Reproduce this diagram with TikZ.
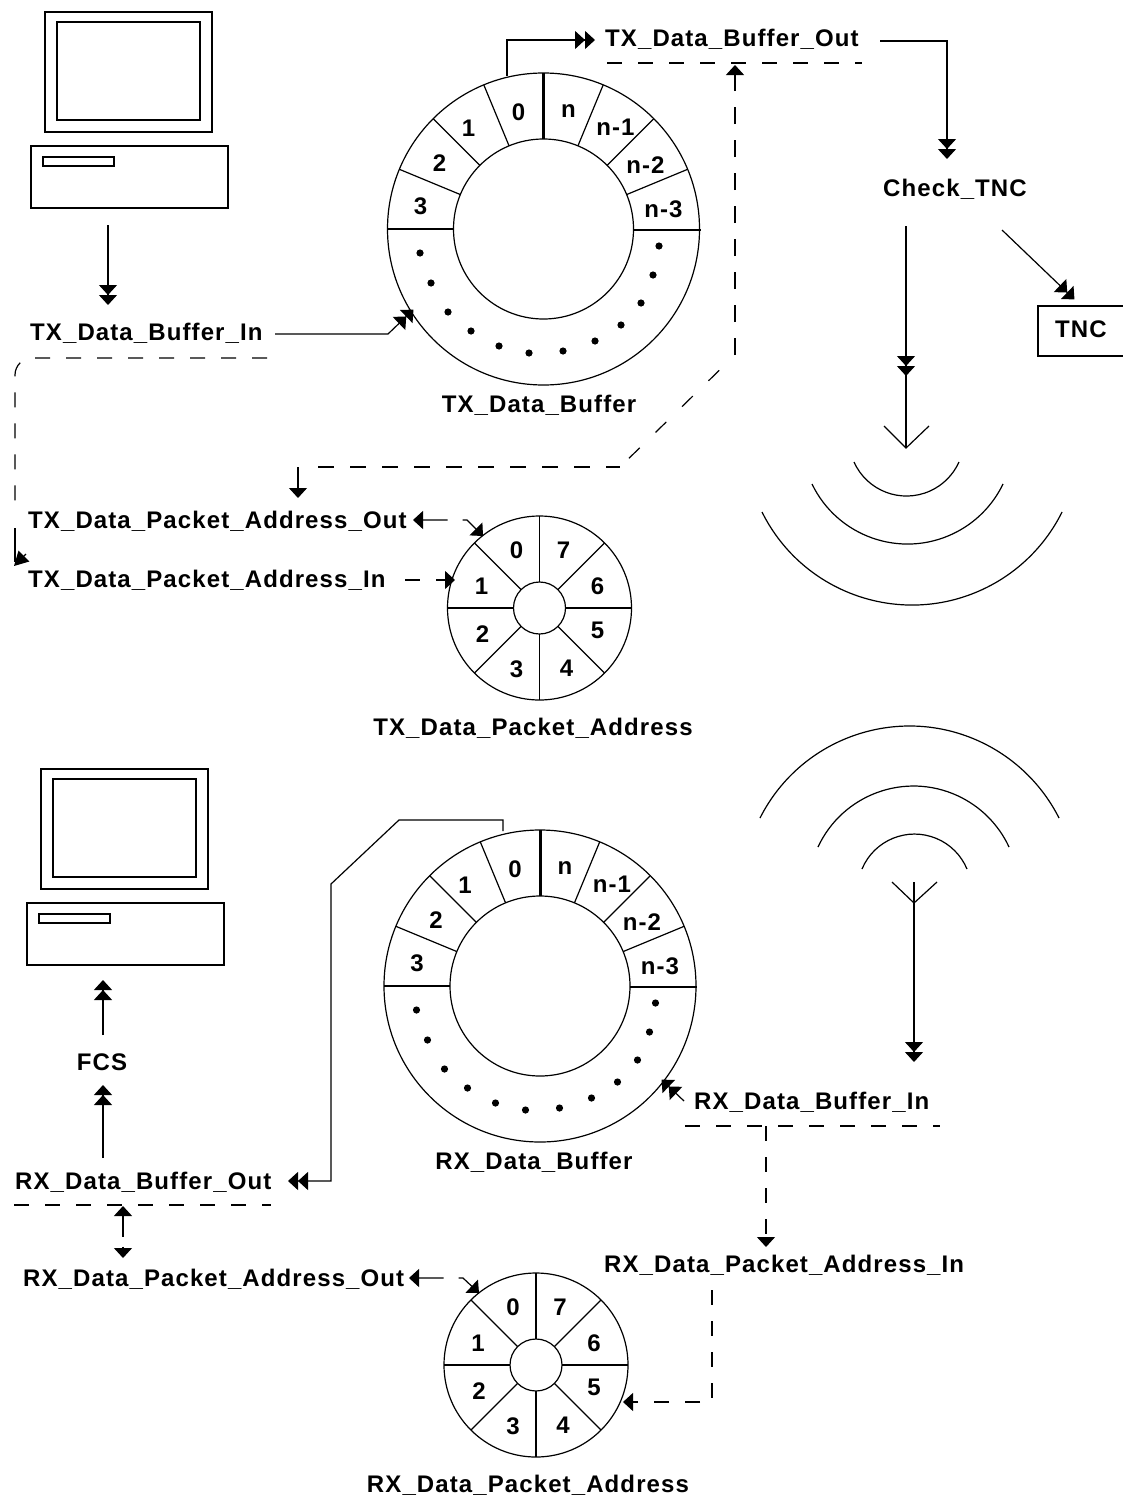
\documentclass[tikz,border=0pt]{standalone}
\usepackage{fontspec}
\setmainfont[LetterSpace=4.6]{Liberation Sans}
\usetikzlibrary{arrows.meta}
\tikzset{
  wire/.style={line width=1.2pt},
  dashwire/.style={line width=1.2pt,dash pattern=on 15pt off 16pt},
  onehead/.style={-{Triangle[width=18pt,length=10pt]}},
  twohead/.style={-{Triangle[width=18pt,length=10pt]Triangle[width=18pt,length=10pt,sep=-2pt]}},
  bothheads/.style={{Triangle[width=18pt,length=10pt]}-{Triangle[width=18pt,length=10pt]}},
  lbl/.style={inner sep=0pt,font=\fontsize{24}{24}\selectfont\bfseries},
}
% Buffer ring with its cells, argument is the centre
\newcommand{\drawbufferring}[1]{%
  \begin{scope}[shift={(#1)}]
    \draw [wire] (0,0) circle (156);%
    \draw [wire] (0,0) circle (90);%
    \draw [line width=3pt] (0,-156) -- (0,-90);%
    \foreach \a in {22.5,45,67.5,112.5,135,157.5}
      \draw [wire] (-\a:90) -- (-\a:156);%
    \draw [wire] (-156,0) -- (-90,0);%
    \draw [wire] (90,1) -- (157,1);%
    \foreach \x/\y/\t in {-25/-117/0,25/-118/n,72/-102/n-1,102/-64/n-2,120/-20/n-3,-75/-101/1,-104/-66/2,-123/-23/3}
      \node [lbl] (cell\t) at (\x,\y) {\t};%
    \foreach \x/\y in {-123.5/24,-112.5/54,-95.5/83,-72.5/102,-44.5/117,-14.5/124,19.5/122,51.5/112,77.5/96,97.5/74,109.5/46,115.5/17}
      \fill (\x,\y) circle (3.6);%
  \end{scope}}
% Address ring with eight cells, argument is the centre
\newcommand{\drawaddressring}[1]{%
  \begin{scope}[shift={(#1)}]
    \draw [wire] (0,0) circle (92);%
    \draw [wire] (0,0) circle (26);%
    \foreach \a in {0,45,...,315}
      \draw [wire] (\a:26) -- (\a:92);%
    \foreach \x/\y/\t in {-23/-58/0,24/-58/7,58/-22/6,58/22/5,27/60/4,-23/61/3,-57/26/2,-58/-22/1}
      \node [lbl] (slot\t) at (\x,\y) {\t};%
  \end{scope}}
% Computer, argument is the top left corner of the monitor
\newcommand{\drawcomputer}[1]{%
  \begin{scope}[shift={(#1)}]
    \draw [wire] (0,0) rectangle (167,120);%
    \draw [wire] (12,10) rectangle (155,108);%
    \draw [wire] (-14,134) rectangle (183,196);%
    \draw [wire] (-2,145) rectangle (69,154);%
  \end{scope}}
\begin{document}
\begin{tikzpicture}[x=1pt,y=-1pt]
\useasboundingbox (0,0) rectangle (1122,1499);

% Drawing computers and rings
\drawcomputer{45,12}
\drawcomputer{41,769}
\begin{scope}[name prefix=txb-] \drawbufferring{543.5,229} \end{scope}
\begin{scope}[name prefix=rxb-] \drawbufferring{540,986} \end{scope}
\begin{scope}[name prefix=txa-] \drawaddressring{539.5,608} \end{scope}
\begin{scope}[name prefix=rxa-] \drawaddressring{536,1365} \end{scope}

% Marking labels of the transmit part
\node [lbl,anchor=west] (TXBufferIn) at (30,333) {TX\_Data\_Buffer\_In};
\node [lbl] (TXBuffer) at (539,405) {TX\_Data\_Buffer};
\node [lbl,anchor=west] (TXBufferOut) at (605,39) {TX\_Data\_Buffer\_Out};
\node [lbl] (CheckTNC) at (955,189) {Check\_TNC};
\node [lbl,anchor=west] (TXAddressOut) at (28,521) {TX\_Data\_Packet\_Address\_Out};
\node [lbl,anchor=west] (TXAddressIn) at (28,580) {TX\_Data\_Packet\_Address\_In};
\node [lbl] (TXAddress) at (533,728) {TX\_Data\_Packet\_Address};
\node [lbl,draw,line width=1.2pt,minimum width=86pt,minimum height=50pt,text depth=3pt] (TNC) at (1081,331) {TNC};

% Marking labels of the receive part
\node [lbl,anchor=west] (RXBufferIn) at (694,1102) {RX\_Data\_Buffer\_In};
\node [lbl] (RXBuffer) at (534,1162) {RX\_Data\_Buffer};
\node [lbl,anchor=west] (RXBufferOut) at (15,1182) {RX\_Data\_Buffer\_Out};
\node [lbl] (FCS) at (102,1062) {FCS};
\node [lbl,anchor=west] (RXAddressOut) at (23,1279) {RX\_Data\_Packet\_Address\_Out};
\node [lbl,anchor=west] (RXAddressIn) at (604,1265) {RX\_Data\_Packet\_Address\_In};
\node [lbl] (RXAddress) at (528,1485) {RX\_Data\_Packet\_Address};

% Drawing transmit connectors
\coordinate (pcTXa) at (108,225);
\coordinate (pcTXb) at (108,303);
\draw [wire,twohead] (pcTXa) -- (pcTXb);
\coordinate (inTXa) at (275,334);
\coordinate (inTXb) at (388,334);
\coordinate (inTXc) at (412,311);
\draw [wire,twohead] (inTXa) -- (inTXb) -- (inTXc);
\coordinate (outTXa) at (507,76);
\coordinate (outTXb) at (507,40);
\coordinate (outTXc) at (593,40);
\draw [wire,twohead] (outTXa) -- (outTXb) -- (outTXc);
\coordinate (chkTXa) at (880,41);
\coordinate (chkTXb) at (947,41);
\coordinate (chkTXc) at (947,157);
\draw [wire,twohead] (chkTXa) -- (chkTXb) -- (chkTXc);
\coordinate (tncTXa) at (1002,230);
\coordinate (tncTXb) at (1073,298);
\draw [wire,twohead] (tncTXa) -- (tncTXb);

% Drawing transmit antenna
\coordinate (antTXa) at (906,226);
\coordinate (antTXb) at (906,374);
\coordinate (antTXc) at (906,448);
\draw [wire,twohead] (antTXa) -- (antTXb);
\draw [wire] (antTXb) -- (antTXc);
\draw [wire] (884,426) -- (antTXc) -- (929,426);
\draw [wire] (854,462) arc [start angle=155.9,end angle=24.1,radius=57.5];
\draw [wire] (812,484) arc [start angle=154.3,end angle=25.7,radius=106];
\draw [wire] (762,512) arc [start angle=153.6,end angle=26.4,radius=167.5];

% Drawing transmit dashed lines
\draw [dashwire] (607,63) -- (862,63);
\coordinate (busTXa) at (735,65);
\coordinate (busTXb) at (735,355);
\coordinate (busTXc) at (620,467);
\coordinate (busTXd) at (298,467);
\coordinate (busTXe) at (298,498);
\coordinate (busTXf) at (318,467);
\draw [wire,dash pattern=on 17pt off 16pt,onehead] (busTXb) -- (busTXa);
\draw [wire,dash pattern=on 15pt off 22pt,dash phase=15pt] (busTXb) -- (busTXc);
\draw [wire,dash pattern=on 16pt off 16pt] (busTXf) -- (busTXc);
\draw [wire,onehead] (busTXd) -- (busTXe);
\coordinate (wrapTXa) at (267,358);
\coordinate (wrapTXb) at (15,358);
\coordinate (wrapTXc) at (15,512);
\coordinate (wrapTXd) at (15,528);
\coordinate (wrapTXe) at (15,562);
\coordinate (wrapTXf) at (26,554);
\coordinate (wrapTXg) at (14,566);
\draw [dashwire,rounded corners=17pt] (wrapTXa) -- (wrapTXb) -- (wrapTXc);
\draw [wire] (wrapTXd) -- (wrapTXe);
\draw [wire,-{Triangle[width=15pt,length=14pt]}] (wrapTXf) -- (wrapTXg);
\coordinate (adoTXa) at (413,520);
\coordinate (adoTXb) at (467,520);
\coordinate (adoTXc) at (483,536);
\draw [wire,dash pattern=on 25pt off 15pt,bothheads] (adoTXa) -- (adoTXb) -- (adoTXc);
\coordinate (adiTXa) at (405,580);
\coordinate (adiTXb) at (455,580);
\draw [dashwire,onehead] (adiTXa) -- (adiTXb);

% Drawing receive connectors
\coordinate (outRXa) at (503,831);
\coordinate (outRXb) at (503,820);
\coordinate (outRXc) at (399,820);
\coordinate (outRXd) at (331,884);
\coordinate (outRXe) at (331,1181);
\coordinate (outRXf) at (290,1181);
\draw [wire,twohead] (outRXa) -- (outRXb) -- (outRXc) -- (outRXd) -- (outRXe) -- (outRXf);
\coordinate (fcsRXa) at (103,1158);
\coordinate (fcsRXb) at (103,1087);
\draw [wire,twohead] (fcsRXa) -- (fcsRXb);
\coordinate (pcRXa) at (103,1035);
\coordinate (pcRXb) at (103,982);
\draw [wire,twohead] (pcRXa) -- (pcRXb);
\coordinate (inRXa) at (684,1101);
\coordinate (inRXb) at (663,1081);
\draw [wire,twohead] (inRXa) -- (inRXb);

% Drawing receive antenna
\coordinate (antRXa) at (914,882);
\coordinate (antRXb) at (914,1060);
\coordinate (antRXc) at (914,903);
\draw [wire,twohead] (antRXa) -- (antRXb);
\draw [wire] (892,882) -- (antRXc) -- (937,882);
\draw [wire] (862,869) arc [start angle=-157.3,end angle=-22.7,radius=56.9];
\draw [wire] (818,847) arc [start angle=-155.1,end angle=-24.9,radius=105.3];
\draw [wire] (760,818) arc [start angle=-153.2,end angle=-26.8,radius=167.5];

% Drawing receive dashed lines
\draw [dashwire] (685,1126) -- (940,1126);
\draw [dashwire] (14,1205) -- (271,1205);
\coordinate (adrRXa) at (766,1126);
\coordinate (adrRXb) at (766,1247);
\draw [dashwire,onehead] (adrRXa) -- (adrRXb);
\coordinate (ptrRXa) at (712,1290);
\coordinate (ptrRXb) at (712,1402);
\coordinate (ptrRXc) at (623,1402);
\draw [dashwire,onehead] (ptrRXa) -- (ptrRXb) -- (ptrRXc);
\coordinate (busRXa) at (123,1206);
\coordinate (busRXb) at (123,1258);
\draw [wire,dash pattern=on 21pt off 10pt,bothheads] (busRXa) -- (busRXb);
\coordinate (adoRXa) at (409,1278);
\coordinate (adoRXb) at (463,1278);
\coordinate (adoRXc) at (479,1293);
\draw [wire,dash pattern=on 25pt off 15pt,bothheads] (adoRXa) -- (adoRXb) -- (adoRXc);
\end{tikzpicture}
\end{document}
